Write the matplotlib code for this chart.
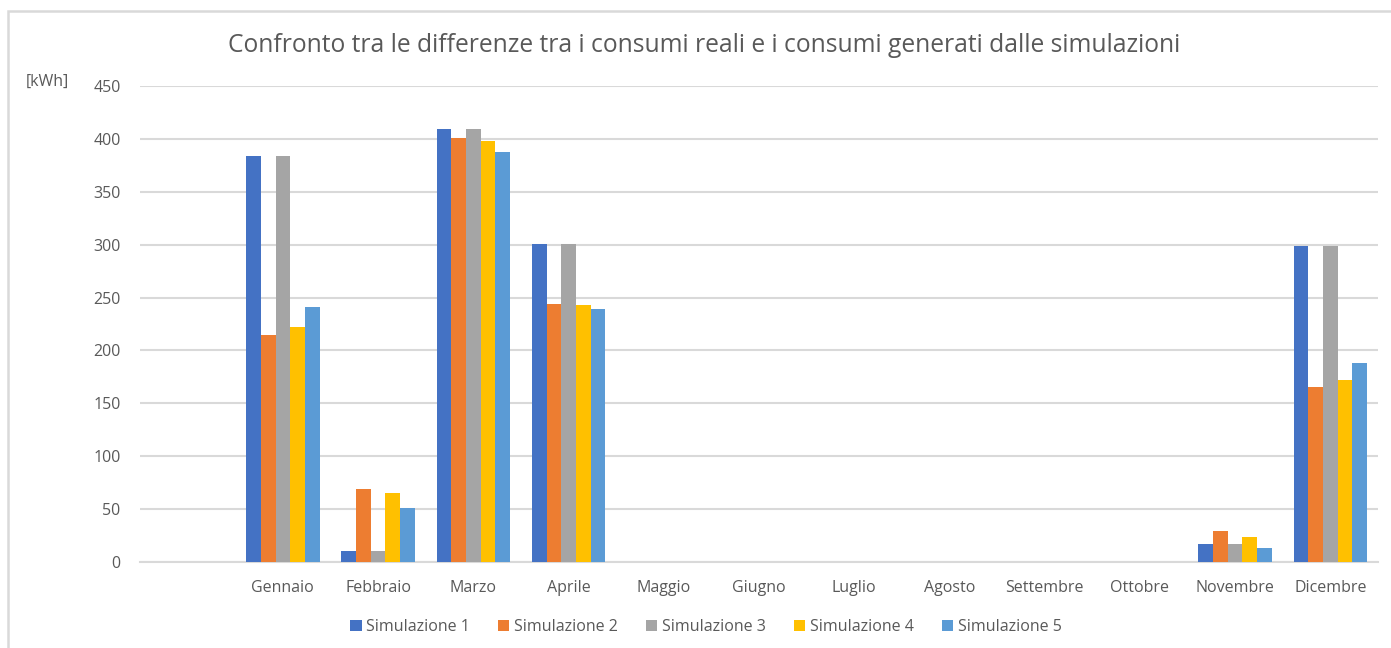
import numpy as np
import matplotlib.pyplot as plt
from matplotlib.patches import Rectangle

plt.rcParams['font.family'] = ['Open Sans', 'DejaVu Sans']

mesi = ['', 'Gennaio', 'Febbraio', 'Marzo', 'Aprile', 'Maggio', 'Giugno',
        'Luglio', 'Agosto', 'Settembre', 'Ottobre', 'Novembre', 'Dicembre']

# differenze in kWh per mese (slot vuoto iniziale = 0)
sim1 = [0, 384, 10, 409, 301, 0, 0, 0, 0, 0, 0, 17, 299]
sim2 = [0, 215, 69, 401, 244, 0, 0, 0, 0, 0, 0, 29, 165]
sim3 = [0, 384, 10, 409, 301, 0, 0, 0, 0, 0, 0, 17, 299]
sim4 = [0, 222, 65, 398, 243, 0, 0, 0, 0, 0, 0, 24, 172]
sim5 = [0, 241, 51, 388, 239, 0, 0, 0, 0, 0, 0, 13, 188]

serie = [sim1, sim2, sim3, sim4, sim5]
nomi = ['Simulazione 1', 'Simulazione 2', 'Simulazione 3', 'Simulazione 4', 'Simulazione 5']
colori = ['#4472C4', '#ED7D31', '#A5A5A5', '#FFC000', '#5B9BD5']

testo = '#595959'
griglia = '#D9D9D9'

fig = plt.figure(figsize=(13.91, 6.48), dpi=100)
fig.patches.append(Rectangle((8 / 1391, -0.1), 1.2, 1 - 11 / 648 + 0.1,
                             transform=fig.transFigure, fill=False,
                             edgecolor=griglia, linewidth=1.8))

ax = fig.add_axes([140 / 1391, 1 - 562 / 648, 1238 / 1391, 476 / 648])

x = np.arange(len(mesi))
w = 0.154
for i, (vals, nome, col) in enumerate(zip(serie, nomi, colori)):
    ax.bar(x + (i - 2) * w, vals, w, color=col, label=nome, zorder=3)

ax.set_xlim(-0.5, len(mesi) - 0.5)
ax.set_ylim(0, 450)
ax.set_yticks(np.arange(0, 451, 50))
ax.set_xticks(x)
ax.set_xticklabels(mesi)
ax.tick_params(axis='both', length=0, colors=testo, labelsize=11.5)
ax.tick_params(axis='x', pad=13)
ax.tick_params(axis='y', pad=14)
ax.grid(axis='y', color=griglia, linewidth=1.5, zorder=0)
for s in ['top', 'right', 'left']:
    ax.spines[s].set_visible(False)
ax.spines['bottom'].set_color(griglia)
ax.spines['bottom'].set_linewidth(1.5)

fig.text(704 / 1391, 1 - 46 / 648, 'Confronto tra le differenze tra i consumi reali e i consumi generati dalle simulazioni',
         ha='center', va='center', fontsize=17.7, color=testo)
fig.text(47 / 1391, 1 - 82 / 648, '[kWh]', ha='center', va='center', fontsize=11.5, color=testo)

fig.legend(loc='center', bbox_to_anchor=(706 / 1391, 1 - 627 / 648), ncol=5, frameon=False,
           fontsize=11.5, labelcolor=testo, handlelength=0.7, handleheight=0.7,
           handletextpad=0.3, columnspacing=1.75)

fig.savefig('out.png', dpi=100)
